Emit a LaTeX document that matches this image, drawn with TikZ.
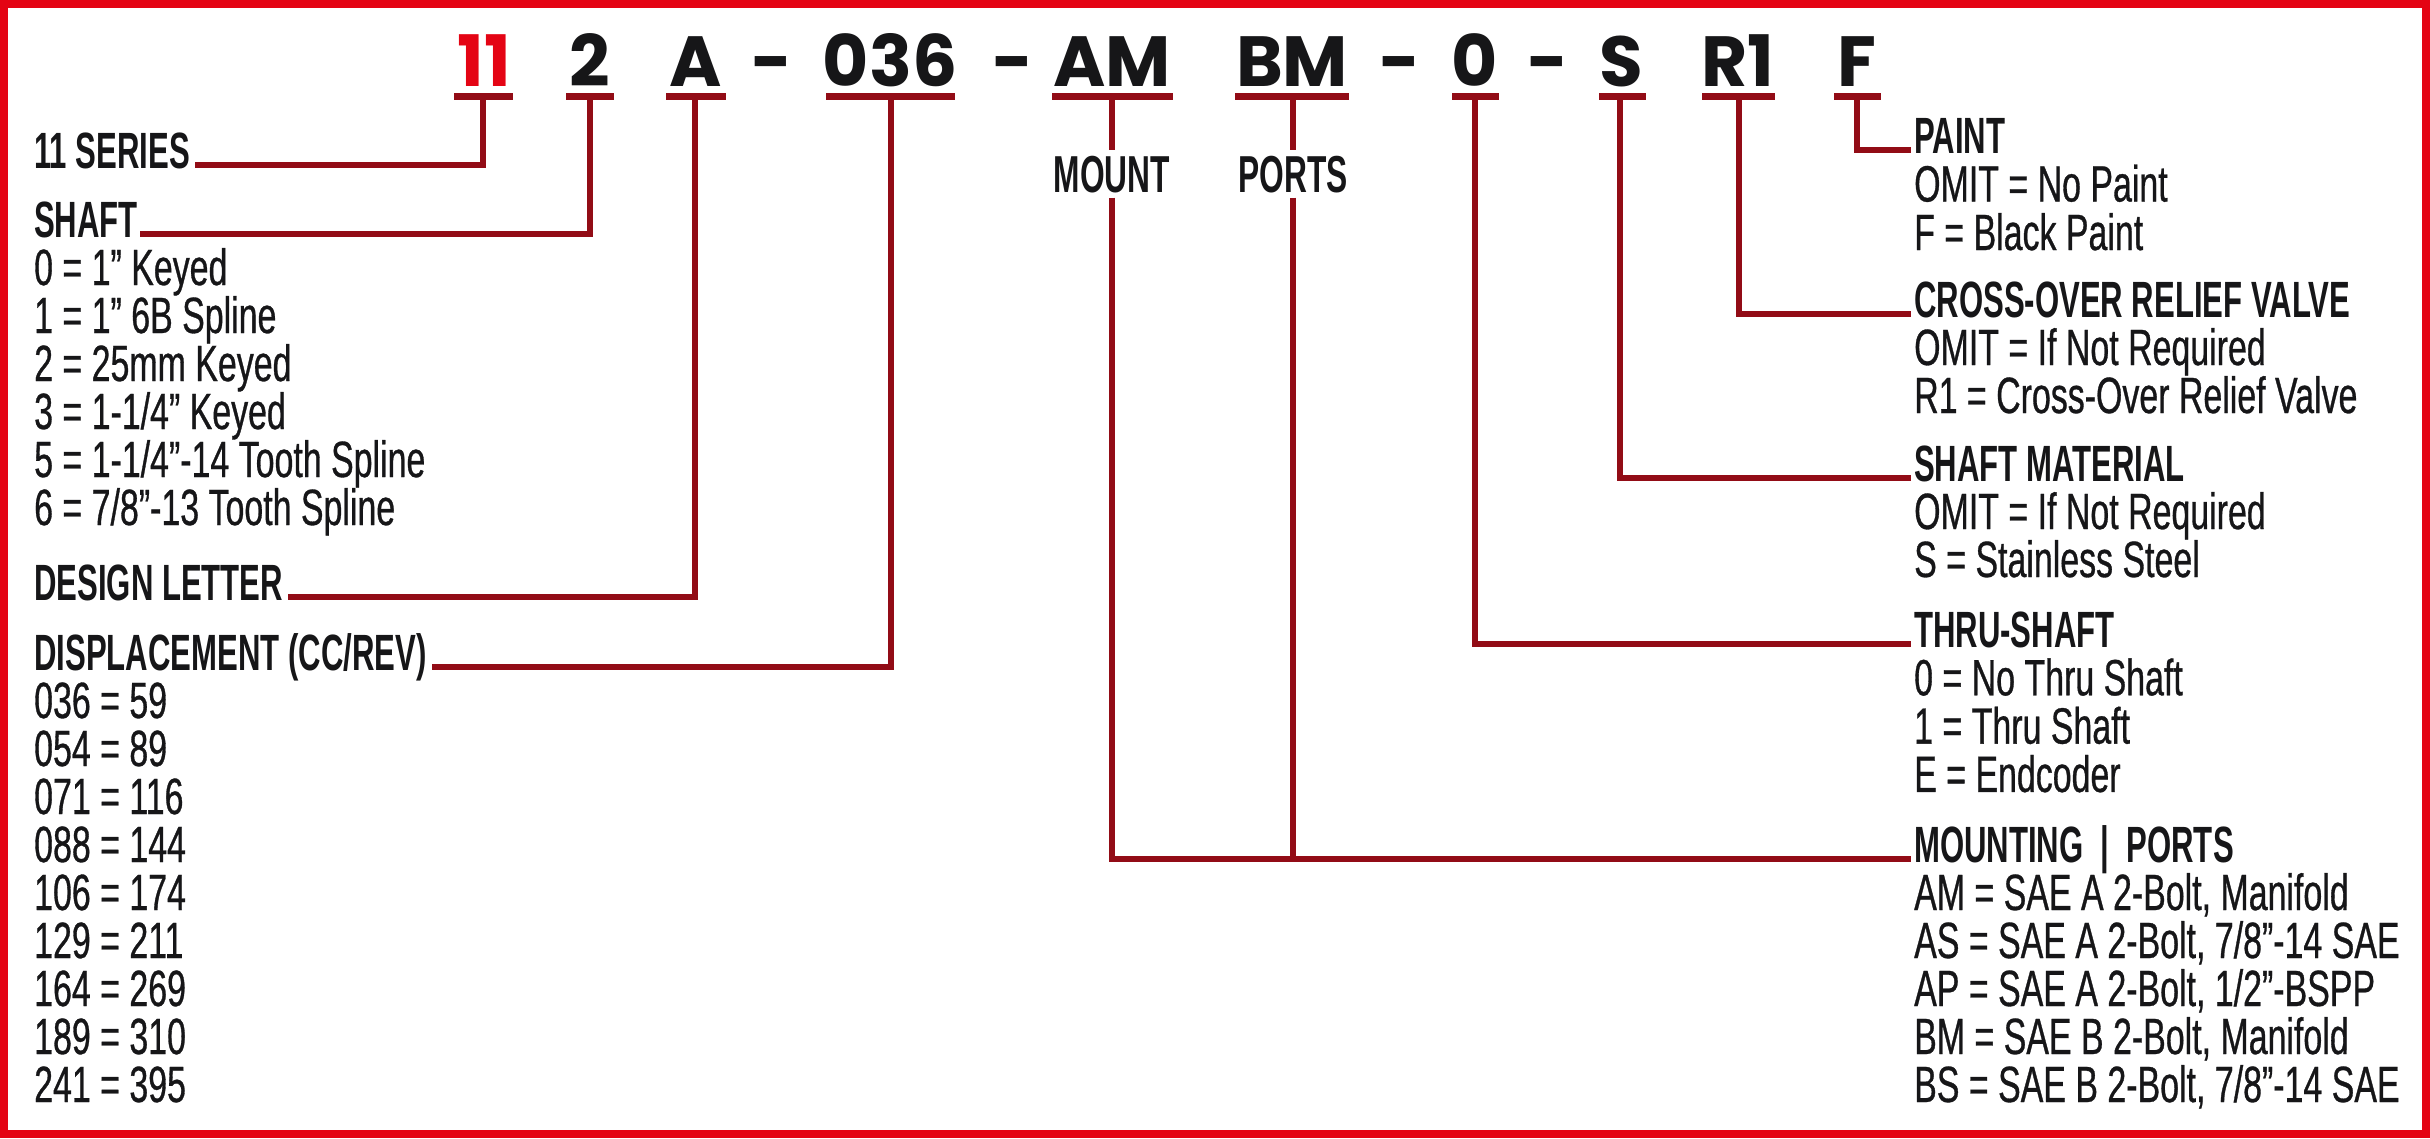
\documentclass[tikz,border=0pt]{standalone}
\usepackage{fontspec}
\newfontfamily\bodyfont[FakeStretch=0.665,FakeBold=0.6]{Liberation Sans}
\newfontfamily\headfont[FakeStretch=0.61]{Liberation Sans}
\newfontfamily\codefont{Poppins}
\definecolor{bred}{RGB}{228,4,20}
\definecolor{lred}{RGB}{146,12,22}
\definecolor{ink}{RGB}{22,22,24}
\begin{document}
\begin{tikzpicture}[x=1pt,y=-1pt,
  body/.style={font=\bodyfont\fontsize{51}{52}\selectfont, inner sep=0pt, anchor=base west, text=ink},
  head/.style={font=\headfont\bfseries\fontsize{51}{52}\selectfont, inner sep=0pt, anchor=base west, text=ink},
  lab/.style={font=\headfont\bfseries\fontsize{52}{54}\selectfont, inner xsep=0pt, inner ysep=5pt, anchor=base, text=ink},
  code/.style={font=\codefont\bfseries\fontsize{71}{72}\selectfont, inner sep=0pt, anchor=base, text=ink},
  uline/.style={draw=lred, line width=7pt},
  conn/.style={draw=lred, line width=6pt}]
\useasboundingbox (0,0) rectangle (2430,1138);
\fill[white] (0,0) rectangle (2430,1138);
\draw[draw=bred, line width=8pt] (4,4) rectangle (2426,1134);

% code characters
\node[code, text=bred] (k11) at (484,86) {11};
\node[code] (k2) at (590,86) {2};
\node[code] (kA) at (696,86) {A};
\node[code] (d1) at (772,86) {-};
\node[code] (k036) at (890,86) {036};
\node[code] (d2) at (1013,86) {-};
\node[code] (kAM) at (1112,86) {AM};
\node[code] (kBM) at (1292,86) {BM};
\node[code] (d3) at (1400,86) {-};
\node[code] (k0) at (1475,86) {0};
\node[code] (d4) at (1548,86) {-};
\node[code] (kS) at (1621,86) {S};
\node[code] (kR) at (1738,86) {R1};
\node[code] (kF) at (1857,86) {F};

% underline anchor points
\coordinate (u11) at (483,96);
\coordinate (u2) at (590,96);
\coordinate (uA) at (695,96);
\coordinate (u036) at (891,96);
\coordinate (uAM) at (1112,96);
\coordinate (uBM) at (1293,96);
\coordinate (u0) at (1475,96);
\coordinate (uS) at (1620,96);
\coordinate (uR) at (1739,96);
\coordinate (uF) at (1857,96);

% left texts
\node[head] (ser) at (34,168) {11 SERIES};
\node[head] (shaft) at (34,237) {SHAFT};
\foreach \t [count=\i] in {0 = 1” Keyed, 1 = 1” 6B Spline, 2 = 25mm Keyed, 3 = 1-1/4” Keyed, 5 = 1-1/4”-14 Tooth Spline, 6 = 7/8”-13 Tooth Spline}
  \node[body] (sh\i) at (34,{237+48*\i}) {\t};
\node[head] (design) at (34,600) {DESIGN LETTER};
\node[head] (disp) at (34,670) {DISPLACEMENT (CC/REV)};
\foreach \t [count=\i] in {036 = 59, 054 = 89, 071 = 116, 088 = 144, 106 = 174, 129 = 211, 164 = 269, 189 = 310, 241 = 395}
  \node[body] (dp\i) at (34,{670+48*\i}) {\t};

% mount / ports labels
\node[lab] (mount) at (1112,192) {MOUNT};
\node[lab] (ports) at (1293,192) {PORTS};

% right texts
\node[head] (paint) at (1914,153) {PAINT};
\foreach \t [count=\i] in {OMIT = No Paint, F = Black Paint}
  \node[body] (pt\i) at (1914,{153+48.5*\i}) {\t};
\node[head] (cross) at (1914,317) {CROSS-OVER RELIEF VALVE};
\foreach \t [count=\i] in {OMIT = If Not Required, R1 = Cross-Over Relief Valve}
  \node[body] (cr\i) at (1914,{317+48*\i}) {\t};
\node[head] (mat) at (1914,481) {SHAFT MATERIAL};
\foreach \t [count=\i] in {OMIT = If Not Required, S = Stainless Steel}
  \node[body] (mt\i) at (1914,{481+48*\i}) {\t};
\node[head] (thru) at (1914,647) {THRU-SHAFT};
\foreach \t [count=\i] in {0 = No Thru Shaft, 1 = Thru Shaft, E = Endcoder}
  \node[body] (th\i) at (1914,{647+48.3*\i}) {\t};
\node[head] (mnt) at (1914,862) {MOUNTING \,|\, PORTS};
\foreach \t [count=\i] in {{AM = SAE A 2-Bolt, Manifold}, {AS = SAE A 2-Bolt, 7/8”-14 SAE}, {AP = SAE A 2-Bolt, 1/2”-BSPP}, {BM = SAE B 2-Bolt, Manifold}, {BS = SAE B 2-Bolt, 7/8”-14 SAE}}
  \node[body] (mp\i) at (1914,{862+48*\i}) {\t};

% connectors
\draw[conn] (u11) |- ([xshift=5pt,yshift=3pt]ser.base east);
\draw[conn] (u2) |- ([xshift=2pt,yshift=3pt]shaft.base east);
\draw[conn] (uA) |- ([xshift=5pt,yshift=3pt]design.base east);
\draw[conn] (u036) |- ([xshift=5pt,yshift=3pt]disp.base east);
\draw[conn] (uF) |- ([xshift=-3pt,yshift=3pt]paint.base west);
\draw[conn] (uR) |- ([xshift=-3pt,yshift=3pt]cross.base west);
\draw[conn] (uS) |- ([xshift=-3pt,yshift=3pt]mat.base west);
\draw[conn] (u0) |- ([xshift=-3pt,yshift=3pt]thru.base west);
\coordinate (mj) at ([xshift=-3pt,yshift=3pt]mnt.base west);
\draw[conn] (uAM) -- (mount.north);
\draw[conn] (uBM) -- (ports.north);
\draw[conn] (mount.south) |- (mj);
\draw[conn] (ports.south) -- (ports.south |- mj);

% underlines
\draw[uline] (454,96) -- (513,96);
\draw[uline] (566,96) -- (614,96);
\draw[uline] (666,96) -- (726,96);
\draw[uline] (826,96) -- (955,96);
\draw[uline] (1052,96) -- (1173,96);
\draw[uline] (1235,96) -- (1349,96);
\draw[uline] (1452,96) -- (1499,96);
\draw[uline] (1599,96) -- (1646,96);
\draw[uline] (1702,96) -- (1775,96);
\draw[uline] (1834,96) -- (1881,96);
\end{tikzpicture}
\end{document}
